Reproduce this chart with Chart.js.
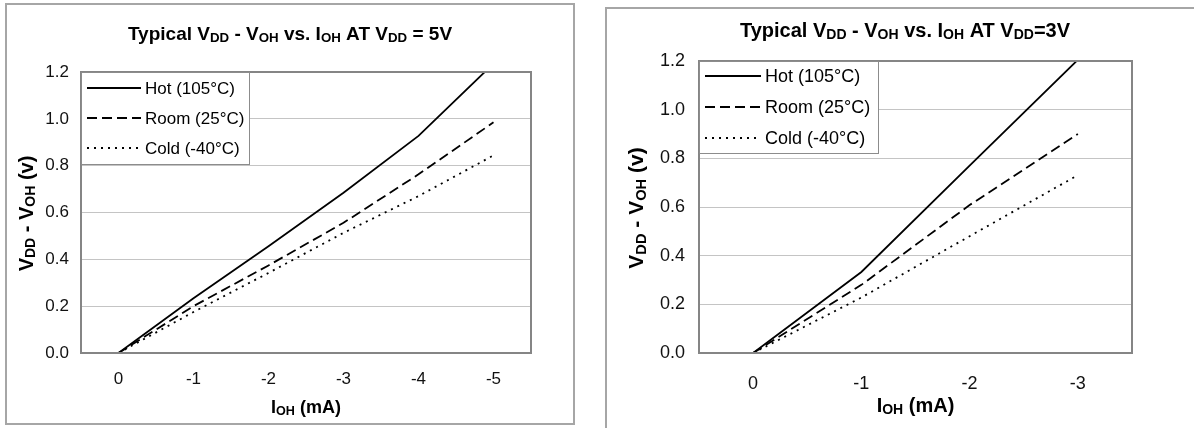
<!DOCTYPE html>
<html>
<head>
<meta charset="utf-8">
<script src="https://cdn.jsdelivr.net/npm/chart.js@4/dist/chart.umd.min.js"></script>
<style>
  body { margin: 0; background: #fff; }
  .wrap { position: absolute; top: 0; width: 597px; height: 428px; }
  .frame { position: absolute; border: 2px solid #a6a6a6; box-sizing: border-box; pointer-events: none; }
</style>
</head>
<body>
<div class="frame" style="left:5px;top:3px;width:570px;height:422px"></div>
<div class="frame" style="left:605px;top:7px;width:620px;height:440px"></div>
<div class="wrap" style="left:0"><canvas id="chart5v"></canvas></div>
<div class="wrap" style="left:597px"><canvas id="chart3v"></canvas></div>
<script>
// values (V)
const currents5V = ['0', '-1', '-2', '-3', '-4', '-5'];
const hot5V = [0, 0.234, 0.456, 0.684, 0.927, 1.236];
const room5V = [0, 0.2, 0.374, 0.556, 0.763, 0.985];
const cold5V = [0, 0.175, 0.342, 0.513, 0.67, 0.844];

const currents3V = ['0', '-1', '-2', '-3'];
const hot3V = [0, 0.333, 0.77, 1.205];
const room3V = [0, 0.28, 0.608, 0.9];
const cold3V = [0, 0.228, 0.48, 0.731];

const seriesNames = ['Hot (105°C)', 'Room (25°C)', 'Cold (-40°C)'];
const yMin = 0;
const yMax = 1.2;
const yStep = 0.2;

const FONT = "'Liberation Sans', Arial, sans-serif";

document.addEventListener('DOMContentLoaded', function () {

  // draws text made of normal and subscript pieces
  const drawRich = (ctx, segs, x, y, size, rotate) => {
    const sub = size * 0.7;
    ctx.save();
    const widthOf = s => {
      ctx.font = `bold ${s.sub ? sub : size}px ${FONT}`;
      return ctx.measureText(s.t).width;
    };
    const total = segs.reduce((w, s) => w + widthOf(s), 0);
    ctx.translate(x, y);
    if (rotate) ctx.rotate(-Math.PI / 2);
    ctx.fillStyle = '#000';
    ctx.textBaseline = 'alphabetic';
    let cx = -total / 2;
    segs.forEach(s => {
      const w = widthOf(s);
      ctx.fillText(s.t, cx, size * 0.35 + (s.sub ? size * 0.12 : 0));
      cx += w;
    });
    ctx.restore();
  };

  const titlesPlugin = {
    id: 'richTitles',
    afterDraw(chart, args, opts) {
      const ctx = chart.ctx;
      const area = chart.chartArea;
      drawRich(ctx, opts.title, opts.titleX, opts.titleY, opts.titleSize, false);
      drawRich(ctx, opts.yTitle, opts.yTitleX, (area.top + area.bottom) / 2 + opts.yTitleShift, opts.yTitleSize, true);
      drawRich(ctx, opts.xTitle, (area.left + area.right) / 2, opts.xTitleY, opts.xTitleSize, false);
    }
  };

  // grey frame round the plot area
  const framePlugin = {
    id: 'plotFrame',
    afterDatasetsDraw(chart) {
      const { ctx, chartArea: a } = chart;
      ctx.save();
      ctx.strokeStyle = '#858585';
      ctx.lineWidth = 2;
      ctx.strokeRect(a.left, a.top, a.right - a.left, a.bottom - a.top);
      ctx.restore();
    }
  };

  // boxed legend sitting in the upper left corner of the plot
  const legendPlugin = {
    id: 'boxLegend',
    afterDraw(chart, args, opts) {
      const { ctx, chartArea: a } = chart;
      const x = a.left, y = a.top;
      ctx.save();
      ctx.fillStyle = '#fff';
      ctx.fillRect(x, y, opts.width, opts.height);
      ctx.strokeStyle = '#8c8c8c';
      ctx.lineWidth = 1;
      ctx.strokeRect(x + 0.5, y + 0.5, opts.width, opts.height);
      chart.data.datasets.forEach((ds, i) => {
        const ry = y + opts.firstRow + i * opts.rowGap;
        ctx.beginPath();
        ctx.setLineDash(ds.borderDash || []);
        ctx.strokeStyle = ds.borderColor;
        ctx.lineWidth = ds.borderWidth;
        ctx.moveTo(x + 6, ry);
        ctx.lineTo(x + 6 + opts.sample, ry);
        ctx.stroke();
        ctx.setLineDash([]);
        ctx.fillStyle = '#000';
        ctx.font = `${opts.fontSize}px ${FONT}`;
        ctx.textBaseline = 'middle';
        ctx.fillText(ds.label, x + 10 + opts.sample, ry + 1);
      });
      ctx.restore();
    }
  };

  const makeDatasets = (hot, room, cold) => [
    { label: seriesNames[0], data: hot, borderColor: '#000', borderWidth: 1.8 },
    { label: seriesNames[1], data: room, borderColor: '#000', borderWidth: 1.8, borderDash: [10, 5] },
    { label: seriesNames[2], data: cold, borderColor: '#000', borderWidth: 1.8, borderDash: [2, 5] }
  ];

  const makeChart = (id, labels, datasets, cfg) => new Chart(document.getElementById(id), {
    type: 'line',
    data: { labels, datasets },
    options: {
      responsive: false,
      animation: false,
      devicePixelRatio: 1,
      layout: { padding: cfg.padding },
      elements: { point: { radius: 0 }, line: { tension: 0 } },
      scales: {
        x: {
          type: 'category',
          offset: true,
          grid: { display: false },
          border: { display: false },
          ticks: { color: '#111', font: { family: FONT, size: cfg.tickSize }, padding: cfg.xPad, maxRotation: 0 },
          afterFit: scale => { scale.height = 50; }
        },
        y: {
          min: yMin,
          max: yMax,
          grid: { color: '#c4c4c4', lineWidth: 1, drawTicks: false },
          border: { display: false },
          ticks: {
            stepSize: yStep,
            color: '#111',
            font: { family: FONT, size: cfg.tickSize },
            padding: cfg.yPad,
            callback: v => v.toFixed(1)
          },
          afterFit: scale => { scale.width = cfg.yWidth; }
        }
      },
      plugins: {
        legend: { display: false },
        tooltip: { enabled: false },
        boxLegend: cfg.legend,
        richTitles: cfg.titles
      }
    },
    plugins: [framePlugin, legendPlugin, titlesPlugin]
  });

  const yTitleSegs = [{ t: 'V' }, { t: 'DD', sub: true }, { t: ' - V' }, { t: 'OH', sub: true }, { t: ' (v)' }];
  const xTitleSegs = [{ t: 'I' }, { t: 'OH', sub: true }, { t: ' (mA)' }];

  document.getElementById('chart5v').width = 597;
  document.getElementById('chart5v').height = 428;
  document.getElementById('chart3v').width = 597;
  document.getElementById('chart3v').height = 428;

  makeChart('chart5v', currents5V, makeDatasets(hot5V, room5V, cold5V), {
    padding: { left: 21, right: 66, top: 72, bottom: 25 },
    yWidth: 60,
    tickSize: 17,
    xPad: 8,
    yPad: 12,
    legend: { width: 168, height: 92, firstRow: 16, rowGap: 30, sample: 54, fontSize: 17 },
    titles: {
      title: [{ t: 'Typical V' }, { t: 'DD', sub: true }, { t: ' - V' }, { t: 'OH', sub: true }, { t: ' vs. I' }, { t: 'OH', sub: true }, { t: ' AT V' }, { t: 'DD', sub: true }, { t: ' = 5V' }],
      titleX: 290, titleY: 33, titleSize: 19,
      yTitle: yTitleSegs, yTitleX: 26, yTitleShift: 1, yTitleSize: 20,
      xTitle: xTitleSegs, xTitleY: 407, xTitleSize: 18
    }
  });

  makeChart('chart3v', currents3V, makeDatasets(hot3V, room3V, cold3V), {
    padding: { left: 32, right: 62, top: 61, bottom: 25 },
    yWidth: 70,
    tickSize: 18,
    xPad: 12,
    yPad: 14,
    legend: { width: 179, height: 92, firstRow: 15, rowGap: 31, sample: 56, fontSize: 18 },
    titles: {
      title: [{ t: 'Typical V' }, { t: 'DD', sub: true }, { t: ' - V' }, { t: 'OH', sub: true }, { t: ' vs. I' }, { t: 'OH', sub: true }, { t: ' AT V' }, { t: 'DD', sub: true }, { t: '=3V' }],
      titleX: 308, titleY: 30, titleSize: 20,
      yTitle: yTitleSegs, yTitleX: 39, yTitleShift: 1, yTitleSize: 21,
      xTitle: xTitleSegs, xTitleY: 405, xTitleSize: 20
    }
  });
});
</script>
</body>
</html>
